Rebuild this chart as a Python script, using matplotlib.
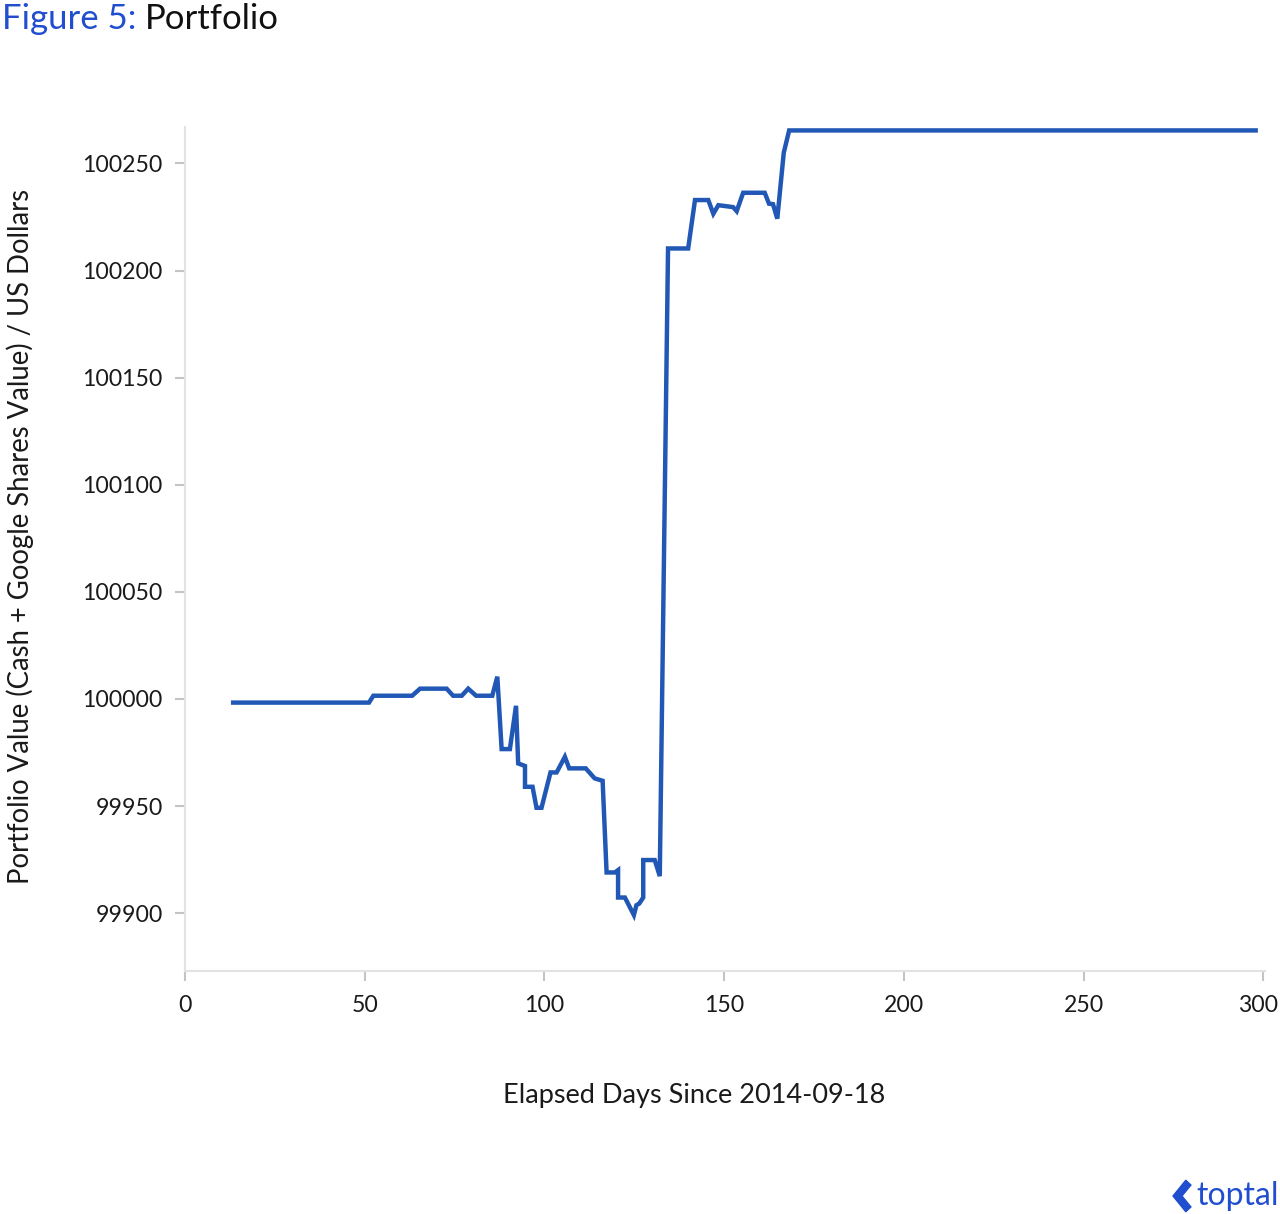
import matplotlib
matplotlib.use('Agg')
import matplotlib.pyplot as plt
from matplotlib.patches import Polygon
from matplotlib.transforms import ScaledTranslation

plt.rcParams['font.family'] = ['Lato', 'DejaVu Sans']

# data (elapsed day, portfolio value)
days = [13.4, 51.2, 52.4, 63.2, 65.4, 72.8, 74.6, 77.0, 78.8, 81.0, 85.5, 86.9,
        88.1, 90.4, 92.1, 92.7, 94.6, 94.6, 96.7, 97.8, 99.2, 101.7, 103.4, 105.7,
        106.9, 111.5, 114.0, 116.2, 117.3, 119.6, 120.5, 120.5, 122.4, 124.9, 125.6,
        126.4, 127.5, 127.5, 130.7, 132.1, 134.4, 140.0, 141.9, 145.6, 147.0, 148.4,
        152.5, 153.5, 155.3, 161.3, 162.5, 163.6, 164.8, 166.6, 168.1, 297.9]
values = [99998.3, 99998.3, 100001.5, 100001.5, 100004.8, 100004.8, 100001.5, 100001.5,
          100004.8, 100001.5, 100001.5, 100010.4, 99976.6, 99976.6, 99996.8, 99969.9,
          99968.7, 99959.0, 99959.0, 99949.2, 99949.2, 99965.7, 99965.7, 99973.0,
          99967.6, 99967.6, 99962.9, 99961.8, 99919.0, 99919.0, 99920.1, 99907.3,
          99907.3, 99899.1, 99903.7, 99904.5, 99907.3, 99924.8, 99924.8, 99917.3,
          100210.3, 100210.3, 100232.9, 100232.9, 100226.5, 100230.5, 100229.6,
          100227.7, 100236.3, 100236.3, 100231.2, 100231.0, 100224.2, 100255.0,
          100265.4, 100265.4]
xticks = [0, 50, 100, 150, 200, 250, 300]
yticks = [99900, 99950, 100000, 100050, 100100, 100150, 100200, 100250]

blue = '#2157b5'
spine_col = '#e2e2e2'
tick_col = '#c4c4c4'

fig = plt.figure(figsize=(12.8, 12.14), dpi=100)
ax = fig.add_axes([185/1280, 1-971/1214, 1080/1280, 844/1214])

ax.plot(days, values, color=blue, lw=3.2, solid_joinstyle='miter')

ax.set_xlim(0, 300.5)
ax.set_ylim(99873, 100267)
ax.set_xticks(xticks)
ax.set_yticks(yticks)
ax.set_yticklabels([str(v) for v in yticks])

for s in ['top', 'right']:
    ax.spines[s].set_visible(False)
for s in ['left', 'bottom']:
    ax.spines[s].set_color(spine_col)
    ax.spines[s].set_linewidth(1.5)
ax.tick_params(axis='both', colors=tick_col, labelcolor='#1a1a1a', labelsize=16.6,
               length=7, width=1.5)
ax.tick_params(axis='y', pad=9)
ax.tick_params(axis='x', pad=10)

# last x label pushed left a little so it stays inside the figure
last = ax.get_xticklabels()[-1]
last.set_transform(last.get_transform() + ScaledTranslation(-0.05, 0, fig.dpi_scale_trans))

fig.text(694/1280, 1-1096/1214, 'Elapsed Days Since 2014-09-18', ha='center', va='center',
         fontsize=19.5, color='#1a1a1a')
fig.text(20/1280, 1-536/1214, 'Portfolio Value (Cash + Google Shares Value) / US Dollars',
         rotation=90, ha='center', va='center', fontsize=19.8, color='#1a1a1a')

t1 = fig.text(2/1280, 1-19/1214, 'Figure 5: ', ha='left', va='center', fontsize=25,
              color='#204ecf')
fig.canvas.draw()
bb = t1.get_window_extent()
fig.text(bb.x1/1280, 1-19/1214, 'Portfolio', ha='left', va='center', fontsize=25,
         color='#111111')

# toptal logo
lx, ly = 1173/1280, 1-1196/1214
logo = Polygon([[lx, ly], [lx+0.010, ly+0.013], [lx+0.014, ly+0.009], [lx+0.007, ly],
                [lx+0.014, ly-0.009], [lx+0.010, ly-0.013]], closed=True,
               transform=fig.transFigure, color='#204ecf')
fig.patches.append(logo)
fig.text(1196/1280, ly, 'toptal', ha='left', va='center', fontsize=23, color='#204ecf')

fig.savefig('out.png', dpi=100)
